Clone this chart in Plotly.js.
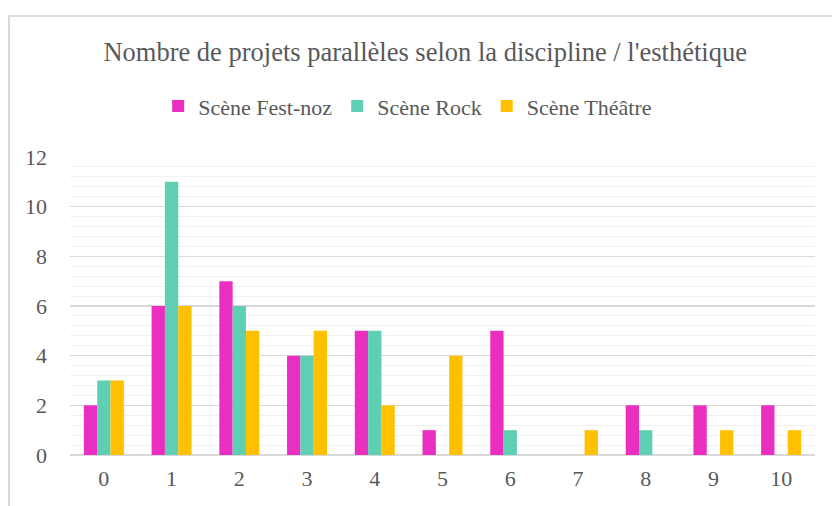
<!DOCTYPE html>
<html>
<head>
<meta charset="utf-8">
<script src="https://cdn.plot.ly/plotly-3.0.1.min.js"></script>
<style>
html,body{margin:0;padding:0;background:#fff;overflow:hidden;}
#frame{position:absolute;left:8px;top:15px;width:900px;height:600px;border:2px solid #d9d9d9;box-sizing:border-box;}
#chart{position:absolute;left:0;top:0;width:832px;height:506px;}
</style>
</head>
<body>
<div id="frame"></div>
<div id="chart"></div>
<script>
const categories = ["0","1","2","3","4","5","6","7","8","9","10"];
const festNoz = [2,6,7,4,5,1,5,0,2,2,2];
const rock    = [3,11,6,4,5,0,1,0,1,0,0];
const theatre = [3,6,5,5,2,4,0,1,0,1,1];
const seriesNames = ["Scène Fest-noz","Scène Rock","Scène Théâtre"];
const colors = ["#EA2EC0","#5ECFB2","#FFC000"];
const titleText = "Nombre de projets parallèles selon la discipline / l'esthétique";

const font = "Liberation Serif";
const traces = [festNoz, rock, theatre].map((vals,i)=>({
  type:"bar", x:categories, y:vals, name:seriesNames[i],
  marker:{color:colors[i], line:{width:0}},
  hoverinfo:"x+y+name"
}));

const layout = {
  width:832, height:506,
  paper_bgcolor:"rgba(0,0,0,0)", plot_bgcolor:"rgba(0,0,0,0)",
  margin:{l:70, r:17, t:157, b:51},
  font:{family:font, color:"#595959", size:22},
  title:{text:titleText, font:{family:font, size:26.5, color:"#595959"}, x:0.511, xref:"container", xanchor:"center", y:0.897, yref:"container", yanchor:"middle"},
  showlegend:true,
  legend:{orientation:"h", x:0.49, xref:"container", xanchor:"center", y:0.79, yref:"container", yanchor:"middle", font:{family:font, size:22, color:"#595959"}, itemwidth:30, traceorder:"normal"},
  barmode:"group", bargap:0.41, bargroupgap:0,
  xaxis:{type:"category", showgrid:false, zeroline:false, showline:false, ticks:"", tickfont:{family:font, size:22, color:"#595959"}, ticklabelstandoff:8},
  yaxis:{range:[0,12], dtick:2, showgrid:true, gridcolor:"#d9d9d9", gridwidth:1.3, zeroline:true, zerolinecolor:"#d9d9d9", zerolinewidth:2,
    showline:false, ticks:"", ticklen:0, tickfont:{family:font, size:22, color:"#595959"}, ticklabelstandoff:22,
    minor:{dtick:0.4, showgrid:true, gridcolor:"#f0f0f0", gridwidth:1}}
};
Plotly.newPlot("chart", traces, layout, {displayModeBar:false, staticPlot:true});
</script>
</body>
</html>
